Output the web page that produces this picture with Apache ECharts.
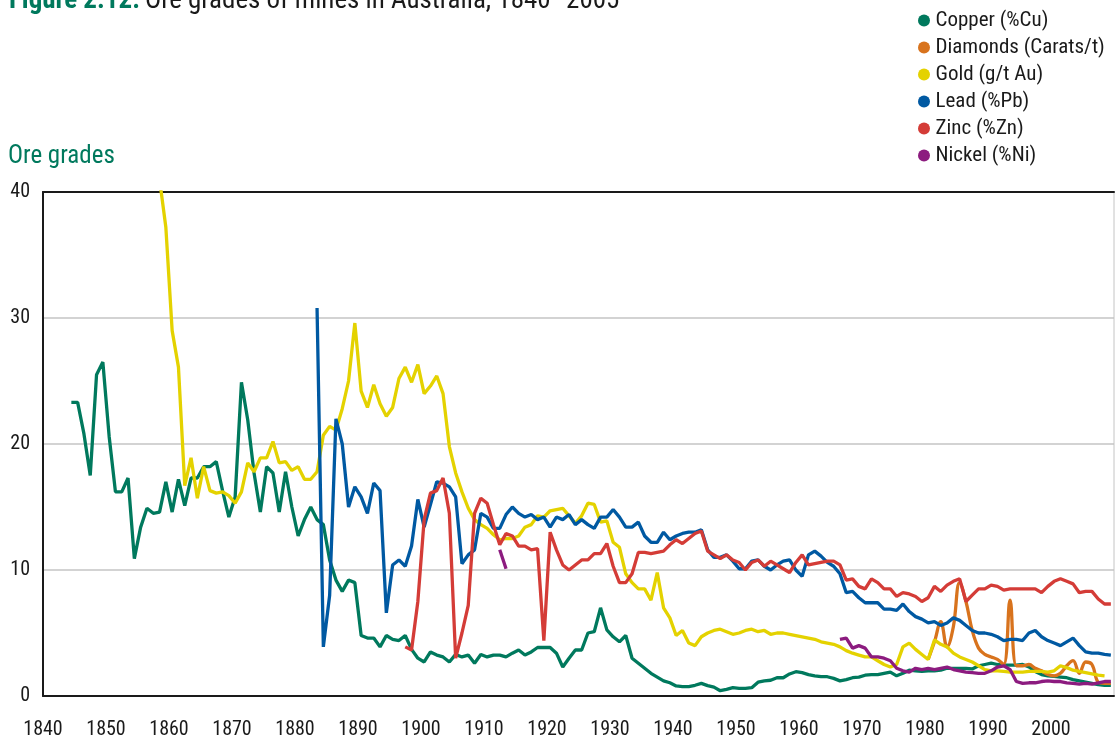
<!DOCTYPE html>
<html>
<head>
<meta charset="utf-8">
<title>Ore grades of mines in Australia</title>
<script src="https://cdn.jsdelivr.net/npm/echarts/dist/echarts.min.js"></script>
<style>
  html, body { margin: 0; padding: 0; background: #fff; }
  #chart { width: 1117px; height: 742px; }
</style>
</head>
<body>
<div id="chart"></div>
<script>
// annual grades, one value per year from the start year
var copperStart = 1844;
var copper = [23.3, 23.3, 20.8, 17.5, 25.5, 26.5, 20.6, 16.2, 16.2, 17.3,
  10.9, 13.4, 14.9, 14.5, 14.6, 17.0, 14.6, 17.2, 15.1, 17.3,
  17.3, 18.2, 18.2, 18.6, 16.3, 14.2, 15.8, 24.9, 21.9, 17.7,
  14.6, 18.2, 17.7, 14.6, 17.8, 15.0, 12.7, 14.0, 15.0, 14.0,
  13.6, 10.8, 9.2, 8.3, 9.2, 9.0, 4.8, 4.6, 4.6, 3.9,
  4.8, 4.5, 4.4, 4.8, 3.7, 3.0, 2.7, 3.5, 3.25, 3.1,
  2.7, 3.3, 3.1, 3.25, 2.6, 3.3, 3.1, 3.25, 3.25, 3.1,
  3.4, 3.65, 3.25, 3.5, 3.85, 3.85, 3.85, 3.4, 2.3, 3.0,
  3.65, 3.65, 5.0, 5.1, 7.0, 5.25, 4.7, 4.3, 4.8, 3.0,
  2.6, 2.2, 1.8, 1.5, 1.2, 1.05, 0.8, 0.75, 0.75, 0.85,
  1.0, 0.82, 0.7, 0.42, 0.53, 0.66, 0.6, 0.6, 0.66, 1.1,
  1.2, 1.25, 1.45, 1.45, 1.75, 1.93, 1.85, 1.7, 1.6, 1.53,
  1.53, 1.4, 1.2, 1.3, 1.45, 1.5, 1.65, 1.7, 1.7, 1.8,
  1.9, 1.6, 1.8, 2.05, 2.0, 1.95, 2.0, 2.0, 2.05, 2.2,
  2.2, 2.2, 2.2, 2.15, 2.4, 2.5, 2.6, 2.5, 2.45, 2.45,
  2.45, 2.5, 2.3, 1.95, 1.7, 1.6, 1.55, 1.5, 1.45, 1.3,
  1.2, 1.1, 1.0, 0.9, 0.85, 0.85];

var diamondsStart = 1980;
var diamonds = [2.9, 4.3, 5.9, 3.9, 5.5, 9.0, 7.5, 5.2, 3.8, 3.3,
  3.1, 2.9, 2.5, 7.6, 2.4, 2.4, 2.5, 2.2, 2.0, 1.7,
  1.6, 1.8, 2.4, 2.8, 1.8, 2.7, 2.5, 1.1, 1.0, 1.0];

var goldStart = 1858;
var gold = [41, 37.2, 29.0, 26.1, 16.7, 18.9,
  15.7, 18.2, 16.3, 16.1, 16.2, 15.9, 15.3, 16.2, 18.5, 17.8,
  18.9, 18.9, 20.2, 18.5, 18.6, 17.9, 18.2, 17.2, 17.2, 17.8,
  20.7, 21.4, 21.1, 22.8, 25.0, 29.6, 24.2, 22.9, 24.7, 23.2,
  22.2, 22.9, 25.2, 26.1, 24.9, 26.3, 24.0, 24.6, 25.4, 24.0,
  19.8, 17.7, 16.2, 14.9, 14.0, 13.6, 13.3, 12.8, 12.4, 12.5,
  12.5, 12.7, 13.4, 13.6, 14.3, 14.2, 14.7, 14.8, 14.9, 14.3,
  13.7, 14.3, 15.3, 15.2, 13.8, 13.9, 12.2, 11.8, 9.7, 9.0,
  8.5, 8.5, 7.6, 9.8, 7.0, 6.2, 4.8, 5.2, 4.2, 4.0,
  4.7, 5.0, 5.2, 5.3, 5.1, 4.9, 5.0, 5.2, 5.3, 5.1,
  5.2, 4.9, 5.0, 5.0, 4.9, 4.8, 4.7, 4.6, 4.5, 4.3,
  4.2, 4.1, 3.9, 3.6, 3.4, 3.25, 3.1, 3.1, 2.8, 2.5,
  2.3, 2.5, 3.9, 4.2, 3.7, 3.3, 2.9, 4.45, 4.1, 3.9,
  3.4, 3.1, 2.9, 2.7, 2.4, 2.1, 2.0, 2.0, 1.95, 1.9,
  1.9, 1.9, 1.95, 1.95, 1.95, 1.9, 2.0, 2.4, 2.25, 2.05,
  1.95, 1.85, 1.75, 1.65, 1.6];

var leadStart = 1883;
var lead = [30.8, 3.9, 8.0, 22.0, 20.0, 15.0, 16.6, 15.8, 14.5, 16.9,
  16.3, 6.6, 10.4, 10.8, 10.3, 11.9, 15.6, 13.4, 15.2, 17.0,
  16.9, 16.6, 15.8, 10.5, 11.2, 11.6, 14.5, 14.2, 13.3, 13.3,
  14.4, 15.0, 14.5, 14.2, 14.4, 14.0, 14.2, 13.4, 14.2, 14.0,
  14.4, 13.6, 14.0, 13.6, 13.3, 14.2, 14.2, 14.8, 14.2, 13.4,
  13.4, 13.8, 12.7, 12.2, 12.2, 13.0, 12.4, 12.7, 12.9, 13.0,
  13.0, 13.2, 11.6, 11.0, 11.0, 11.2, 10.7, 10.1, 10.1, 10.7,
  10.8, 10.3, 10.0, 10.4, 10.7, 10.8, 10.0, 9.5, 11.2, 11.5,
  11.1, 10.6, 10.3, 9.7, 8.2, 8.3, 7.8, 7.4, 7.4, 7.4,
  6.9, 6.9, 6.8, 7.3, 6.7, 6.3, 6.1, 5.8, 5.9, 5.6,
  5.8, 6.2, 6.0, 5.6, 5.2, 5.0, 5.0, 4.9, 4.7, 4.4,
  4.5, 4.5, 4.4, 5.0, 5.2, 4.7, 4.4, 4.2, 4.0, 4.3,
  4.6, 4.0, 3.5, 3.4, 3.4, 3.3, 3.25];

var zincStart = 1897;
var zinc = [3.9, 3.65, 7.5, 14.0, 16.1, 16.3, 17.3, 14.5, 3.0, 5.0,
  7.2, 14.5, 15.7, 15.3, 13.6, 12.0, 12.9, 12.7, 11.9, 11.9,
  11.6, 11.7, 4.4, 13.0, 11.6, 10.4, 10.0, 10.4, 10.8, 10.8,
  11.3, 11.3, 12.1, 10.3, 9.0, 9.0, 9.7, 11.4, 11.4, 11.3,
  11.4, 11.5, 12.0, 12.4, 12.1, 12.5, 12.9, 13.1, 11.5, 11.2,
  10.9, 11.2, 10.8, 10.6, 10.0, 10.6, 10.8, 10.3, 10.7, 10.4,
  10.1, 9.8, 10.6, 11.2, 10.4, 10.5, 10.6, 10.7, 10.7, 10.4,
  9.2, 9.3, 8.7, 8.5, 9.3, 9.0, 8.5, 8.5, 7.9, 8.2,
  8.1, 7.9, 7.5, 7.8, 8.7, 8.3, 8.8, 9.1, 9.3, 7.5,
  8.0, 8.5, 8.5, 8.8, 8.7, 8.4, 8.5, 8.5, 8.5, 8.5,
  8.5, 8.2, 8.7, 9.1, 9.3, 9.1, 8.9, 8.2, 8.3, 8.3,
  7.7, 7.3, 7.3];

// nickel has two separate runs
var nickelEarlyStart = 1912;
var nickelEarly = [11.6, 10.1];
var nickelLateStart = 1966;
var nickelLate = [4.5, 4.6, 3.8, 4.0, 3.8, 3.1, 3.1, 3.0, 2.8, 2.2,
  2.0, 1.9, 2.2, 2.1, 2.2, 2.1, 2.2, 2.3, 2.1, 2.0,
  1.9, 1.85, 1.8, 1.8, 2.0, 2.3, 2.4, 2.1, 1.15, 1.0,
  1.05, 1.05, 1.15, 1.2, 1.15, 1.15, 1.05, 1.0, 0.95, 1.0,
  0.95, 1.05, 1.15, 1.15];

var names = ['Copper (%Cu)', 'Diamonds (Carats/t)', 'Gold (g/t Au)', 'Lead (%Pb)', 'Zinc (%Zn)', 'Nickel (%Ni)'];
var colors = ['#00795d', '#d8731d', '#e4d200', '#0059a2', '#d43c37', '#8c1b7f'];
var yTicks = [0, 10, 20, 30, 40];
var xTicks = [1840, 1850, 1860, 1870, 1880, 1890, 1900, 1910, 1920, 1930, 1940, 1950, 1960, 1970, 1980, 1990, 2000];

// narrow face, close to the DIN-like original
var font = '"Liberation Sans Narrow", "Roboto Condensed", Roboto, sans-serif';

// values are plotted at mid-year
function pts(start, vals) {
    return vals.map(function (v, i) { return [start + i + 0.5, v]; });
}

function line(name, color, data, smooth) {
    return {
        name: name,
        type: 'line',
        data: data,
        showSymbol: false,
        smooth: smooth ? 0.4 : false,
        lineStyle: { color: color, width: 3.3 },
        itemStyle: { color: color },
        clip: true
    };
}

var chart = echarts.init(document.getElementById('chart'));
chart.setOption({
    animation: false,
    title: [{
        text: '{a|Figure 2.12.} {b|Ore grades of mines in Australia, 1840–2005}',
        left: 4,
        top: -17,
        textStyle: {
            rich: {
                a: { fontFamily: font, fontSize: 27, fontWeight: 'bold', color: '#00795d' },
                b: { fontFamily: font, fontSize: 27, fontWeight: 'normal', color: '#1a1a1a' }
            }
        }
    }, {
        text: 'Ore grades',
        left: 3,
        top: 139,
        textStyle: { fontFamily: font, fontSize: 25, fontWeight: 'normal', color: '#00795d' }
    }],
    legend: {
        orient: 'vertical',
        left: 913,
        top: 5,
        icon: 'circle',
        itemWidth: 13,
        itemHeight: 12,
        itemGap: 6,
        data: names,
        textStyle: { fontFamily: font, fontSize: 21, lineHeight: 21, color: '#1a1a1a' }
    },
    grid: {
        left: 43, right: 1, top: 192, bottom: 46,
        show: true, borderColor: '#c4c4c4', borderWidth: 1
    },
    xAxis: [{
        type: 'value',
        min: xTicks[0],
        max: 2010,
        interval: 10,
        axisLine: { show: true, lineStyle: { color: '#1a1a1a', width: 2 } },
        axisTick: { show: false },
        splitLine: { show: false },
        axisLabel: {
            fontFamily: font, fontSize: 20, color: '#1a1a1a', margin: 24,
            showMinLabel: true,
            formatter: function (v) { return xTicks.indexOf(v) >= 0 ? String(v) : ''; }
        }
    }, {
        // dark frame line along the top
        type: 'value',
        position: 'top',
        min: xTicks[0],
        max: 2010,
        axisLine: { show: true, lineStyle: { color: '#1a1a1a', width: 2 } },
        axisTick: { show: false },
        axisLabel: { show: false },
        splitLine: { show: false }
    }],
    yAxis: {
        type: 'value',
        min: yTicks[0],
        max: yTicks[yTicks.length - 1],
        interval: 10,
        axisLine: { show: true, lineStyle: { color: '#1a1a1a', width: 2 } },
        axisTick: { show: false },
        axisLabel: { fontFamily: font, fontSize: 20, color: '#1a1a1a', margin: 13 },
        splitLine: { lineStyle: { color: '#c4c4c4', width: 1.5 } }
    },
    series: [
        line(names[0], colors[0], pts(copperStart, copper)),
        line(names[1], colors[1], pts(diamondsStart, diamonds), true),
        line(names[2], colors[2], pts(goldStart, gold)),
        line(names[3], colors[3], pts(leadStart, lead)),
        line(names[4], colors[4], pts(zincStart, zinc)),
        line(names[5], colors[5], pts(nickelEarlyStart, nickelEarly)),
        line(names[5], colors[5], pts(nickelLateStart, nickelLate))
    ]
});
</script>
</body>
</html>
